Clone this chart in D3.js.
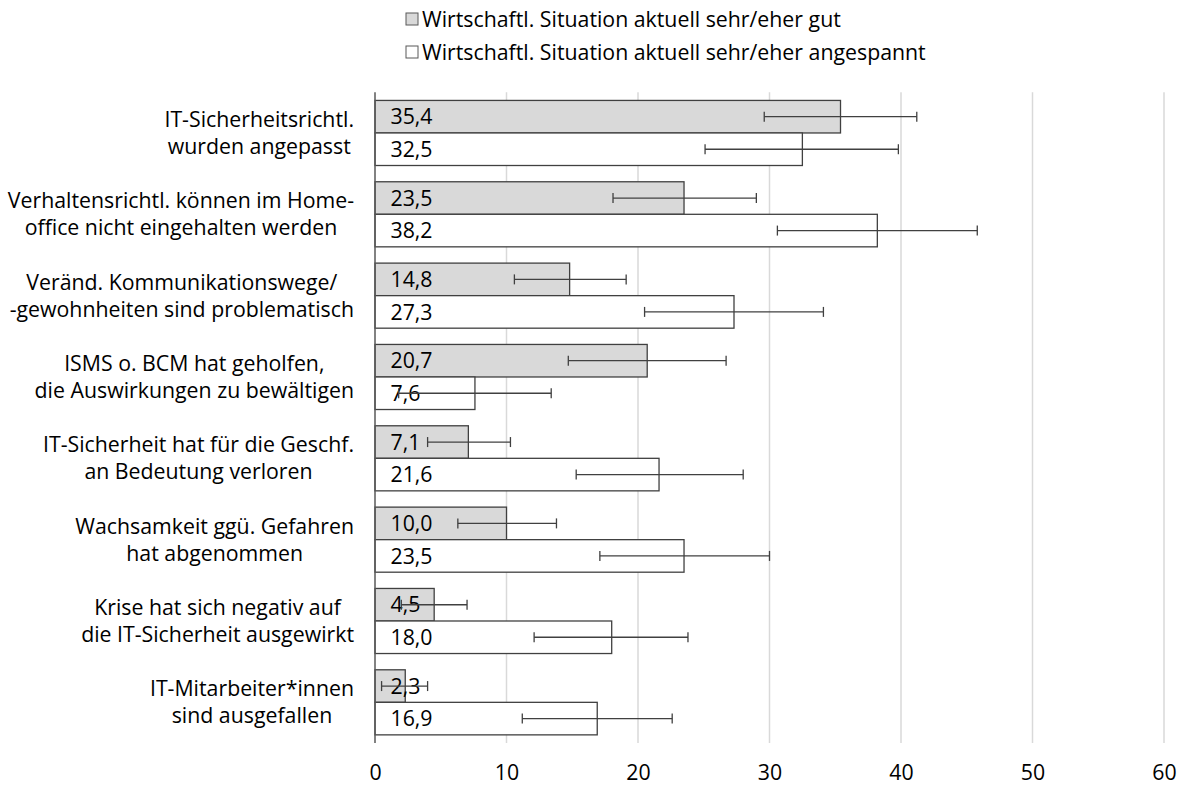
<!DOCTYPE html>
<html>
<head>
<meta charset="utf-8">
<script src="https://cdn.jsdelivr.net/npm/d3@7"></script>
<style>
  body { margin: 0; background: #fff; }
  text { font-family: "Open Sans", Lato, sans-serif; fill: #000; }
</style>
</head>
<body>
<div id="chart"></div>
<script>
// categories, each split over two lines like in the original
var categories = [
  ["IT-Sicherheitsrichtl.", "wurden angepasst"],
  ["Verhaltensrichtl. können im Home-", "office nicht eingehalten werden"],
  ["Veränd. Kommunikationswege/", "-gewohnheiten sind problematisch"],
  ["ISMS o. BCM hat geholfen,", "die Auswirkungen zu bewältigen"],
  ["IT-Sicherheit hat für die Geschf.", "an Bedeutung verloren"],
  ["Wachsamkeit ggü. Gefahren", "hat abgenommen"],
  ["Krise hat sich negativ auf", "die IT-Sicherheit ausgewirkt"],
  ["IT-Mitarbeiter*innen", "sind ausgefallen"]
];
var seriesNames = [
  "Wirtschaftl. Situation aktuell sehr/eher gut",
  "Wirtschaftl. Situation aktuell sehr/eher angespannt"
];
var goodValues = [35.4, 23.5, 14.8, 20.7, 7.1, 10.0, 4.5, 2.3];
var goodLow    = [29.6, 18.1, 10.6, 14.7, 4.0, 6.3, 2.0, 0.5];
var goodHigh   = [41.2, 29.0, 19.1, 26.7, 10.3, 13.8, 7.0, 4.0];
var tenseValues = [32.5, 38.2, 27.3, 7.6, 21.6, 23.5, 18.0, 16.9];
var tenseLow    = [25.1, 30.6, 20.5, 1.8, 15.3, 17.1, 12.1, 11.2];
var tenseHigh   = [39.8, 45.8, 34.1, 13.4, 28.0, 30.0, 23.8, 22.6];
var xTicks = [0, 10, 20, 30, 40, 50, 60];

var width = 1183, height = 785;
var fontSize = 21.3;
var barStroke = "#404040";

var svg = d3.select("#chart").append("svg")
  .attr("width", width)
  .attr("height", height);

var x = d3.scaleLinear().domain([0, 60]).range([375, 1164]);
var y = d3.scaleBand().domain(d3.range(categories.length))
  .range([92.3, 743]).paddingInner(0.2).paddingOuter(0.1);
var sub = d3.scaleBand().domain([0, 1]).range([0, y.bandwidth()]);

var rows = categories.map(function (c, i) {
  return [
    { i: i, s: 0, v: goodValues[i], lo: goodLow[i], hi: goodHigh[i] },
    { i: i, s: 1, v: tenseValues[i], lo: tenseLow[i], hi: tenseHigh[i] }
  ];
});
var bars = d3.merge(rows);
var fills = ["#d9d9d9", "#ffffff"];

// gridlines
svg.append("g").selectAll("line")
  .data(xTicks.slice(1))
  .enter().append("line")
  .attr("x1", function (d) { return x(d); })
  .attr("x2", function (d) { return x(d); })
  .attr("y1", 92.3)
  .attr("y2", 743)
  .style("stroke", "#d9d9d9")
  .style("stroke-width", 1.5);

// x axis tick labels
var xAxis = d3.axisBottom(x).tickValues(xTicks).tickSize(0).tickPadding(0)
  .tickFormat(d3.format("d"));
var gx = svg.append("g").attr("transform", "translate(0,765)").call(xAxis);
gx.select(".domain").remove();
gx.selectAll("text")
  .style("font-family", "'Open Sans', Lato, sans-serif")
  .style("font-size", fontSize + "px")
  .attr("fill", "#000");

// bars
svg.append("g").selectAll("rect")
  .data(bars)
  .enter().append("rect")
  .attr("x", x(0))
  .attr("y", function (d) { return y(d.i) + sub(d.s); })
  .attr("width", function (d) { return x(d.v) - x(0); })
  .attr("height", sub.bandwidth())
  .style("fill", function (d) { return fills[d.s]; })
  .style("stroke", barStroke)
  .style("stroke-width", 1.3);

// value labels inside bars
svg.append("g").selectAll("text")
  .data(bars)
  .enter().append("text")
  .attr("x", x(0) + 15.5)
  .attr("y", function (d) { return y(d.i) + sub(d.s) + sub.bandwidth() / 2; })
  .attr("dy", "0.36em")
  .style("font-size", fontSize + "px")
  .text(function (d) { return d3.format(".1f")(d.v).replace(".", ","); });

// error bars
var err = svg.append("g").selectAll("g")
  .data(bars)
  .enter().append("g")
  .style("stroke", barStroke)
  .style("stroke-width", 1.3);
err.append("line")
  .attr("x1", function (d) { return x(d.lo); })
  .attr("x2", function (d) { return x(d.hi); })
  .attr("y1", function (d) { return y(d.i) + sub(d.s) + sub.bandwidth() / 2; })
  .attr("y2", function (d) { return y(d.i) + sub(d.s) + sub.bandwidth() / 2; });
["lo", "hi"].forEach(function (k) {
  err.append("line")
    .attr("x1", function (d) { return x(d[k]); })
    .attr("x2", function (d) { return x(d[k]); })
    .attr("y1", function (d) { return y(d.i) + sub(d.s) + sub.bandwidth() / 2 - 5; })
    .attr("y2", function (d) { return y(d.i) + sub(d.s) + sub.bandwidth() / 2 + 5; });
});

// vertical axis line
svg.append("line")
  .attr("x1", x(0)).attr("x2", x(0))
  .attr("y1", 92.3).attr("y2", 743)
  .style("stroke", "#595959")
  .style("stroke-width", 1.5);

// category labels: two centered lines, block right-aligned
var labelRight = 354;
var lab = svg.append("g").selectAll("text")
  .data(categories)
  .enter().append("text")
  .style("font-size", fontSize + "px")
  .attr("text-anchor", "middle");
lab.each(function (c, i) {
  var t = d3.select(this);
  var cy = y(i) + y.bandwidth() / 2;
  c.forEach(function (line, j) {
    t.append("tspan")
      .attr("y", cy + (j === 0 ? -13.5 : 13.5))
      .attr("dy", "0.36em")
      .text(line);
  });
  var w = 0;
  t.selectAll("tspan").each(function () { w = Math.max(w, this.getComputedTextLength()); });
  t.selectAll("tspan").attr("x", labelRight - w / 2);
});

// legend
var leg = svg.append("g").selectAll("g")
  .data(seriesNames)
  .enter().append("g")
  .attr("transform", function (d, i) { return "translate(406," + (19 + i * 33) + ")"; });
leg.append("rect")
  .attr("x", 0).attr("y", -6)
  .attr("width", 12).attr("height", 12)
  .style("fill", function (d, i) { return fills[i]; })
  .style("stroke", "#595959")
  .style("stroke-width", 1);
leg.append("text")
  .attr("x", 16)
  .attr("dy", "0.36em")
  .style("font-size", fontSize + "px")
  .text(function (d) { return d; });
</script>
</body>
</html>
